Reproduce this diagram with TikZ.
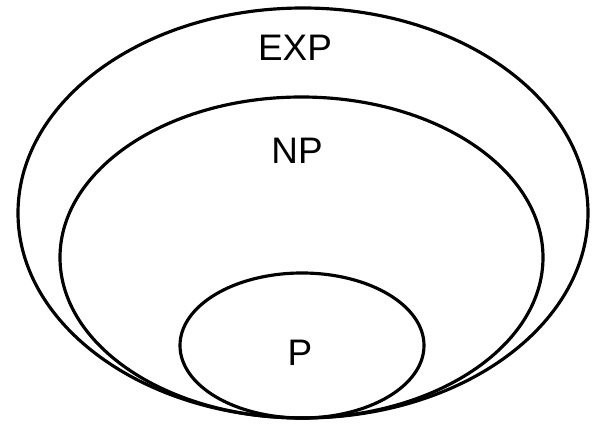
\documentclass[tikz,border=0pt]{standalone}
\usepackage{fontspec}
\setmainfont{Liberation Sans}
\usetikzlibrary{positioning,shapes.geometric}

\begin{document}
\begin{tikzpicture}[set/.style={draw,ellipse,line width=1.8pt,inner sep=0pt},lbl/.style={font=\fontsize{21}{25}\selectfont}]
\useasboundingbox (0,0) rectangle (12.08,8.48);
\node[set,minimum width=11.4cm,minimum height=8.2cm] (exp) at (6.06,4.22) {};
\node[set,minimum width=9.66cm,minimum height=6.42cm] (np) at (6.03,3.33) {};
\node[set,minimum width=4.88cm,minimum height=2.9cm] (p) at (6.04,1.57) {};
\node[lbl] (explabel) at (5.9,7.52) {EXP};
\node[lbl] (nplabel) at (5.94,5.46) {NP};
\node[lbl] (plabel) at (6.0,1.42) {P};
\end{tikzpicture}
\end{document}
